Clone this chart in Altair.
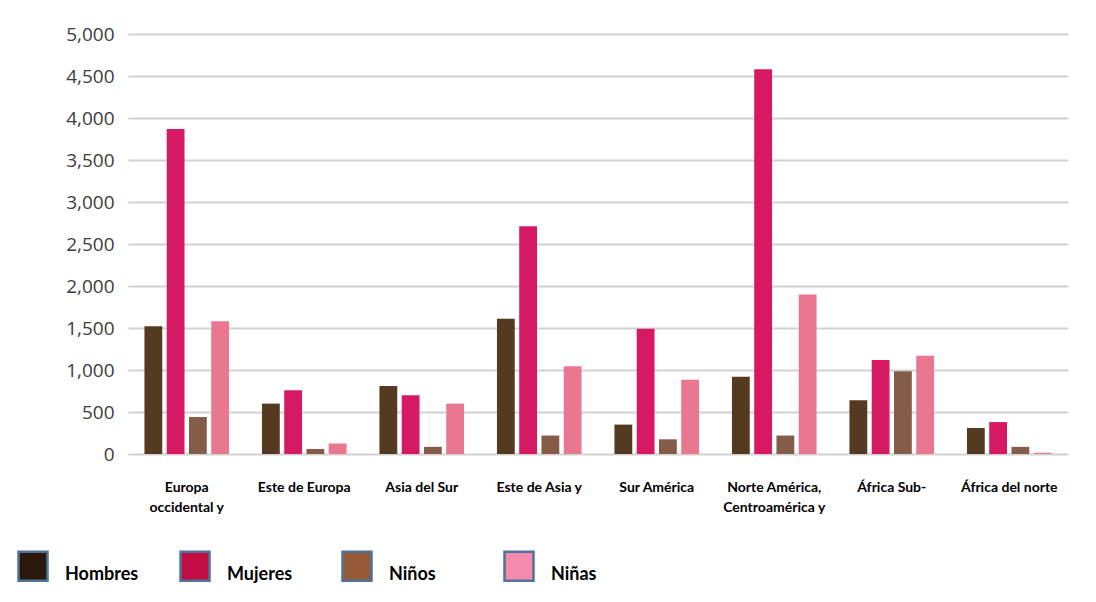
import altair as alt
import pandas as pd

regions = ["Europa\noccidental y", "Este de Europa", "Asia del Sur", "Este de Asia y",
           "Sur América", "Norte América,\nCentroamérica y", "África Sub-", "África del norte"]
series = ["Hombres", "Mujeres", "Niños", "Niñas"]
hombres = [1520, 600, 810, 1610, 350, 920, 640, 310]
mujeres = [3870, 760, 700, 2710, 1490, 4580, 1120, 380]
ninos = [440, 60, 85, 220, 175, 220, 985, 85]
ninas = [1580, 125, 600, 1045, 885, 1900, 1170, 15]
bar_colors = ["#553a22", "#d51a63", "#845c47", "#e8778f"]
legend_colors = ["#2a180a", "#c20d44", "#955a35", "#f58cb0"]
y_ticks = list(range(0, 5001, 500))

rows = []
for name, vals in zip(series, [hombres, mujeres, ninos, ninas]):
    for r, v in zip(regions, vals):
        rows.append({"region": r, "serie": name, "valor": v})
df = pd.DataFrame(rows)

x = alt.X("region:N", sort=regions, title=None,
          scale=alt.Scale(paddingInner=0.28, paddingOuter=0.14),
          axis=alt.Axis(labelAngle=0, labelExpr="split(datum.label, '\\n')",
                        labelFont="Lato", labelFontSize=14, labelFontWeight="bold",
                        labelColor="black", labelPadding=26, labelLineHeight=20,
                        labelBaseline="top", ticks=False, domain=False, grid=False,
                        labelLimit=200))
y = alt.Y("valor:Q", title=None, scale=alt.Scale(domain=[0, 5000], nice=False),
          axis=alt.Axis(values=y_ticks, format=",d", labelFont="Open Sans", labelFontSize=19,
                        labelColor="#3c3c3c", labelPadding=14, ticks=False, domain=False,
                        gridColor="#d2d2d2", gridWidth=2))
xo = alt.XOffset("serie:N", sort=series, scale=alt.Scale(paddingInner=0.2, paddingOuter=0))

bars = alt.Chart(df).mark_bar().encode(
    x=x, y=y, xOffset=xo,
    color=alt.Color("serie:N", sort=series, scale=alt.Scale(domain=series, range=bar_colors), legend=None),
)

leg = alt.Chart(df).mark_square(size=0, strokeWidth=0).encode(
    x=x, y=y,
    color=alt.Color("serie:N", sort=series, scale=alt.Scale(domain=series, range=legend_colors),
                  legend=alt.Legend(title=None, orient="none", legendX=-111, legendY=516,
                                    direction="horizontal", columns=4, symbolType="square",
                                    symbolSize=841, symbolStrokeColor="#4f7399",
                                    symbolStrokeWidth=2.5, symbolOpacity=1,
                                    labelFont="Lato", labelFontSize=18, labelFontWeight="bold",
                                    labelColor="black", labelOffset=16, gridAlign="all",
                                    columnPadding=36, labelBaseline="top")),
)

chart = alt.layer(bars, leg).resolve_scale(color="independent").resolve_legend(
    color="independent").properties(
    width=940, height=420,
    padding={"left": 9, "top": 17, "right": 20, "bottom": 10},
).configure(background="white", view=alt.ViewConfig(stroke=None))

chart.save("out.html", embed_options={"renderer": "svg", "actions": False})
